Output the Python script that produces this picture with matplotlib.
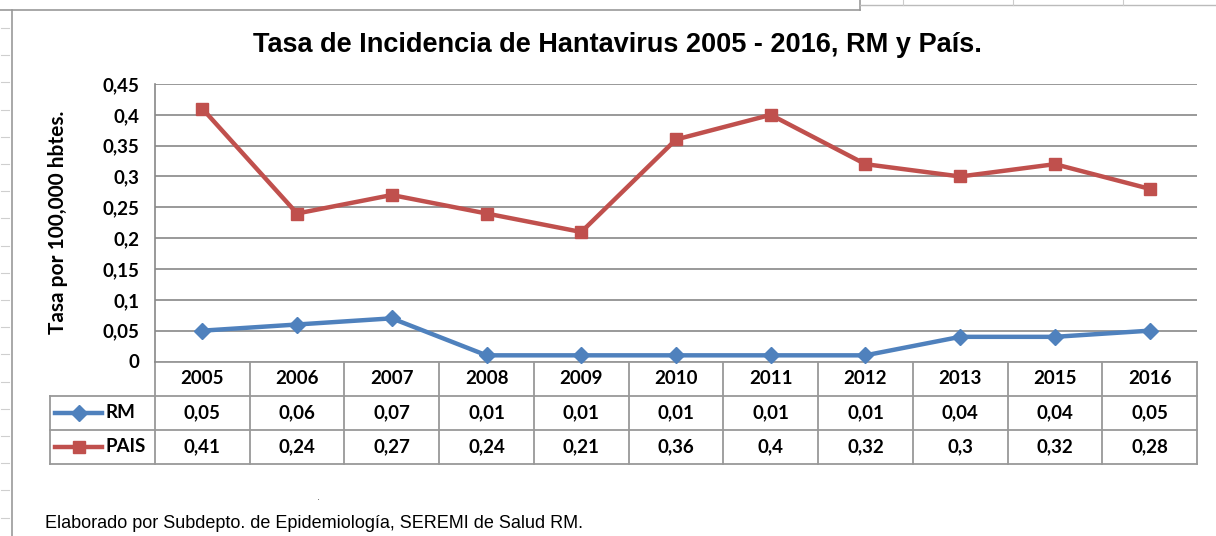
import matplotlib
matplotlib.use("Agg")
import matplotlib.pyplot as plt
from matplotlib.lines import Line2D
import matplotlib.transforms as mtransforms

years = ["2005", "2006", "2007", "2008", "2009", "2010", "2011", "2012", "2013", "2015", "2016"]
rm = [0.05, 0.06, 0.07, 0.01, 0.01, 0.01, 0.01, 0.01, 0.04, 0.04, 0.05]
pais = [0.41, 0.24, 0.27, 0.24, 0.21, 0.36, 0.40, 0.32, 0.30, 0.32, 0.28]
series_names = ["RM", "PAIS"]
yticks = [0, 0.05, 0.1, 0.15, 0.2, 0.25, 0.3, 0.35, 0.4, 0.45]

BLUE = "#4F81BD"
RED = "#C0504D"
GRID = "#888888"
NUMFONT = "Lato"
NUMSIZE = 13.5

W, H = 1216, 536
fig = plt.figure(figsize=(W / 100, H / 100), dpi=100)
fig.patch.set_facecolor("white")

def fx(px):
    return px / W

def fy(py):
    return 1 - py / H

# Spreadsheet decorations around the chart object
fig.add_artist(Line2D([fx(0), fx(860)], [fy(10), fy(10)], color="#999999", lw=1.2, transform=fig.transFigure))
fig.add_artist(Line2D([fx(860), fx(860)], [fy(0), fy(10)], color="#999999", lw=1.2, transform=fig.transFigure))
fig.add_artist(Line2D([fx(860), fx(1216)], [fy(5), fy(5)], color="#bbbbbb", lw=1.0, transform=fig.transFigure))
for xv in [903, 1013, 1123]:
    fig.add_artist(Line2D([fx(xv), fx(xv)], [fy(0), fy(5)], color="#cccccc", lw=0.8, transform=fig.transFigure))
fig.add_artist(Line2D([fx(12), fx(12)], [fy(10), fy(536)], color="#999999", lw=1.2, transform=fig.transFigure))
for i in range(19):
    yy = 28 + i * 27.2
    fig.add_artist(Line2D([fx(1), fx(9)], [fy(yy), fy(yy)], color="#cfcfcf", lw=0.8, transform=fig.transFigure))

# Plot area
left, right, top, bottom = 155, 1197, 84, 361.5
ax = fig.add_axes([fx(left), fy(bottom), fx(right) - fx(left), fy(top) - fy(bottom)])
x = list(range(len(years)))
ax.set_xlim(-0.5, len(years) - 0.5)
ax.set_ylim(0, 0.45)
ax.set_yticks(yticks)
ax.set_yticklabels([("%g" % v).replace(".", ",") for v in yticks],
                   fontfamily=NUMFONT, fontweight="bold", fontsize=NUMSIZE)
ax.tick_params(axis="y", length=0, pad=11)
ax.set_xticks([])
for sp in ["top", "right", "bottom"]:
    ax.spines[sp].set_visible(False)
ax.spines["left"].set_color(GRID)
ax.spines["left"].set_linewidth(1.2)
ax.yaxis.grid(True, color=GRID, lw=1.2)
ax.set_axisbelow(True)

ax.plot(x, rm, color=BLUE, lw=3.2, marker="D", ms=8, mfc=BLUE, mec=BLUE, zorder=3, clip_on=False)
ax.plot(x, pais, color=RED, lw=3.2, marker="s", ms=9, mfc=RED, mec=RED, zorder=3, clip_on=False)

ax.set_ylabel("Tasa por 100,000 hbtes.", fontfamily=NUMFONT, fontweight="bold", fontsize=15)
ax.yaxis.set_label_coords((68 - left) / (right - left), 0.5)

# Data table
trans = mtransforms.blended_transform_factory(ax.transData, fig.transFigure)
row_edges = [361.5, 396, 430, 463.5]
col_w = (right - left) / len(years)
left_col_px = 50
x_leftcol = (left_col_px - left) / col_w - 0.5
tc = "#999999"
tlw = 1.3
ax.add_line(Line2D([-0.5, len(years) - 0.5], [fy(row_edges[0])] * 2, color=tc, lw=tlw, transform=trans, clip_on=False))
for r in row_edges[1:]:
    ax.add_line(Line2D([x_leftcol, len(years) - 0.5], [fy(r)] * 2, color=tc, lw=tlw, transform=trans, clip_on=False))
for i in range(len(years) + 1):
    xv = i - 0.5
    ax.add_line(Line2D([xv, xv], [fy(row_edges[0]), fy(row_edges[3])], color=tc, lw=tlw, transform=trans, clip_on=False))
ax.add_line(Line2D([x_leftcol, x_leftcol], [fy(row_edges[1]), fy(row_edges[3])], color=tc, lw=tlw, transform=trans, clip_on=False))

def fmt(v):
    return ("%g" % v).replace(".", ",")

cell_kw = dict(ha="center", va="center", fontfamily=NUMFONT, fontweight="bold", fontsize=NUMSIZE, transform=trans, clip_on=False)
for i, yr in enumerate(years):
    ax.text(i, fy((row_edges[0] + row_edges[1]) / 2), yr, **cell_kw)
    ax.text(i, fy((row_edges[1] + row_edges[2]) / 2), fmt(rm[i]), **cell_kw)
    ax.text(i, fy((row_edges[2] + row_edges[3]) / 2), fmt(pais[i]), **cell_kw)

# legend keys in table
for r, (name, col, mk, ms) in enumerate([(series_names[0], BLUE, "D", 8), (series_names[1], RED, "s", 9)]):
    yc = fy((row_edges[r + 1] + row_edges[r + 2]) / 2)
    fig.add_artist(Line2D([fx(55), fx(102)], [yc, yc], color=col, lw=3.2, transform=fig.transFigure))
    fig.add_artist(Line2D([fx(78.5)], [yc], color=col, marker=mk, ms=ms, mfc=col, mec=col, transform=fig.transFigure))
    fig.text(fx(106), yc, name, ha="left", va="center", fontfamily=NUMFONT, fontweight="bold", fontsize=NUMSIZE)

# Title
fig.text(fx(617), fy(45), "Tasa de Incidencia de Hantavirus 2005 - 2016, RM y País.",
         ha="center", va="center", fontfamily="Liberation Sans", fontweight="bold", fontsize=19.5)

# Footer
fig.text(fx(45), fy(524), "Elaborado por Subdepto. de Epidemiología, SEREMI de Salud RM.",
         ha="left", va="center", fontfamily="Liberation Sans", fontsize=13)
fig.text(fx(318), fy(497), ".", ha="center", va="center", fontfamily="Liberation Sans", fontsize=8, color="#555555")

fig.savefig("out.png", dpi=100, facecolor="white")
